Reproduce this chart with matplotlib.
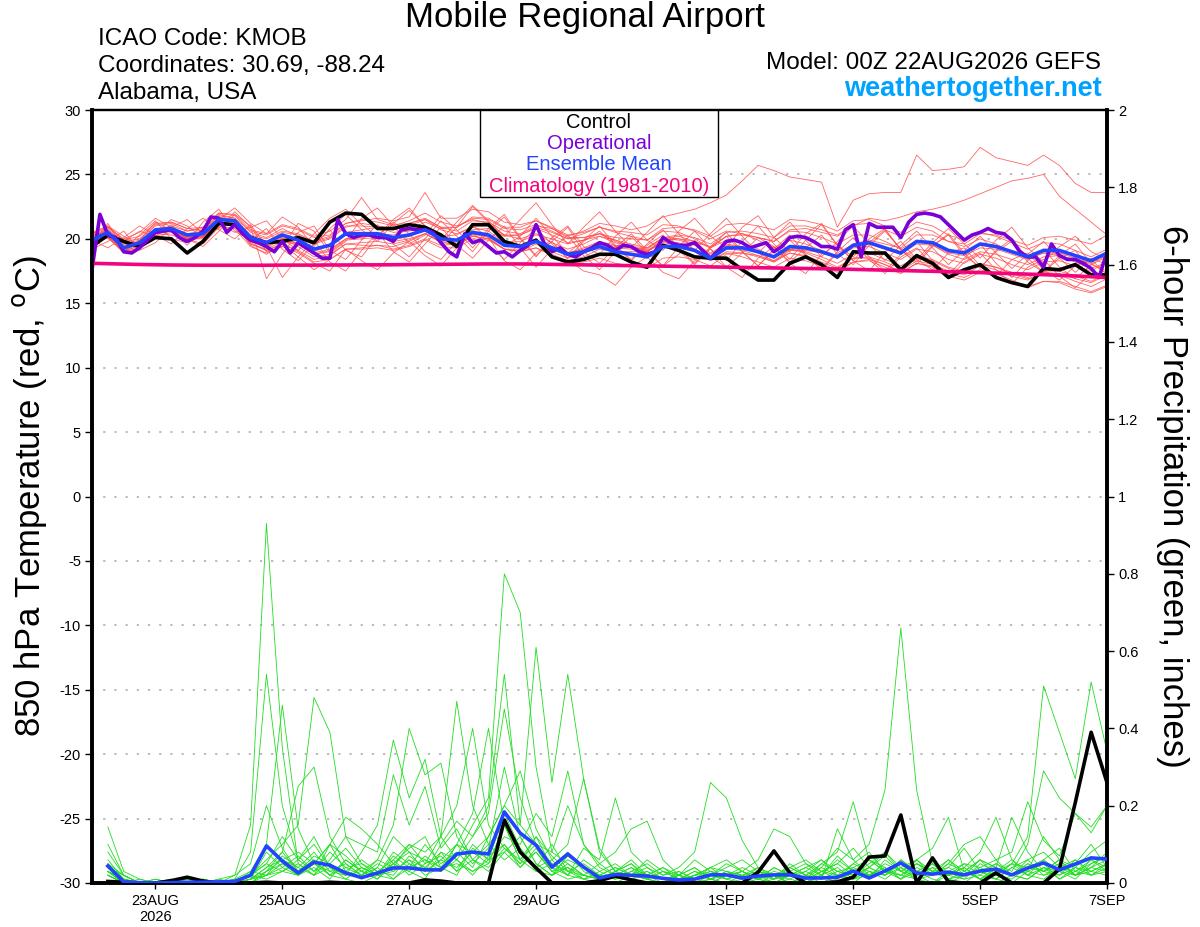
import numpy as np
import matplotlib
matplotlib.use("Agg")
import matplotlib.pyplot as plt
from matplotlib.patches import Rectangle

plt.rcParams['font.family'] = ['Liberation Sans', 'DejaVu Sans']

# ---- data (6-hourly from 00Z 22AUG2026) ----
xtick_days = [1, 3, 5, 7, 10, 12, 14, 16]
xtick_labels = ['23AUG\n2026', '25AUG', '27AUG', '29AUG', '1SEP', '3SEP', '5SEP', '7SEP']

ctrl_temp = [19.4,20.3,19.8,19.4,20.1,20.0,18.9,19.8,21.2,21.1,20.1,19.7,19.8,20.1,19.7,21.3,
             22.0,21.9,20.8,20.8,21.1,20.9,20.3,19.4,21.1,21.1,19.8,19.4,19.9,18.6,18.2,18.4,
             18.8,18.8,18.2,17.8,19.5,19.1,18.6,18.5,18.5,17.6,16.8,16.8,18.1,18.6,18.0,17.0,
             19.0,18.9,18.9,17.6,18.7,18.1,17.0,17.6,18.0,17.0,16.6,16.3,17.7,17.6,18.0,17.2,17.2]

mean_temp = [19.9,20.5,19.3,19.7,20.7,20.8,20.3,20.4,21.5,21.4,20.1,19.7,20.3,19.9,19.2,19.5,
             20.4,20.4,20.4,20.1,20.3,20.7,20.0,19.9,20.5,20.3,19.5,19.4,19.8,19.3,18.8,19.0,
             19.4,19.0,18.8,18.6,19.4,19.4,19.1,18.5,19.3,19.3,19.0,18.6,19.4,19.3,19.0,18.6,
             19.5,19.7,19.3,18.9,19.8,19.7,19.1,18.9,19.6,19.4,19.0,18.6,19.1,19.1,18.7,18.3,18.9]

clim_temp = [18.10,18.07,18.04,18.01,17.99,17.97,17.96,17.95,17.95,17.95,17.95,17.95,17.96,17.96,17.96,17.97,
             17.97,17.98,17.98,17.99,18.00,18.01,18.02,18.03,18.04,18.05,18.05,18.05,18.04,18.02,18.00,17.98,
             17.96,17.94,17.92,17.90,17.88,17.86,17.84,17.82,17.80,17.78,17.76,17.74,17.72,17.70,17.68,17.66,
             17.63,17.60,17.57,17.54,17.51,17.48,17.45,17.42,17.38,17.34,17.30,17.26,17.22,17.17,17.12,17.06,17.00]

# operational run is 3-hourly
oper_temp = [17.6,21.9,20.3,20.1,19.0,18.9,19.3,19.9, 20.5,20.6,20.7,20.1,19.8,20.1,20.6,21.7,
             21.6,20.5,21.1,20.4,19.9,19.7,19.4,19.0, 19.8,18.9,19.7,19.3,18.9,18.5,18.5,21.5,
             20.4,20.1,20.3,20.3,20.1,20.1,19.8,20.7, 20.8,20.7,20.7,20.5,19.7,19.0,18.6,20.4,
             19.7,19.9,19.4,18.9,19.0,18.6,19.1,19.5, 21.1,19.7,19.0,19.3,18.8,18.6,19.0,19.3,
             19.7,19.5,19.1,19.5,19.4,19.0,18.8,19.0, 20.1,19.7,19.5,19.5,19.7,19.1,18.5,19.1,
             19.8,19.9,19.7,19.3,19.5,19.7,19.0,19.4, 20.1,20.2,20.1,19.8,19.4,19.4,19.2,20.7,
             21.1,18.6,21.2,20.9,20.9,20.9,20.1,21.3, 21.9,22.0,21.9,21.7,21.1,20.5,19.9,20.3,
             20.5,20.8,20.5,20.4,19.9,19.0,18.6,18.6, 17.8,19.6,18.7,18.4,18.4,18.1,17.7,17.0,19.0]

temp_members = [
    [20.2,20.8,19.6,19.9,21.0,21.2,20.6,20.9,22.0,21.8,20.5,20.1,20.8,20.2,19.6,20.0,
     20.9,21.2,21.0,20.8,21.2,21.6,20.9,20.6,21.4,21.3,20.6,20.4,21.0,20.8,20.2,20.6,
     21.2,21.0,20.7,21.0,21.7,22.0,22.3,22.8,23.4,24.5,25.7,25.3,24.8,24.6,24.4,20.9,
     23.0,23.5,23.6,23.6,26.5,25.3,25.4,25.6,27.1,26.3,26.0,25.7,26.5,25.7,24.3,23.6,23.6],
    [19.5,20.1,19.0,19.5,20.4,20.3,19.9,20.1,21.2,21.1,19.8,19.3,20.0,19.6,18.9,19.2,
     20.0,20.1,20.3,19.8,20.0,20.4,19.8,19.5,20.2,20.0,19.2,19.0,19.6,19.0,18.5,18.9,
     19.6,19.3,19.2,19.0,20.0,20.2,19.8,19.4,20.2,20.4,20.1,19.8,20.7,20.8,20.5,20.2,
     21.0,21.6,21.4,21.7,22.1,22.3,22.6,23.0,23.5,24.0,24.5,24.7,25.0,23.3,22.3,21.3,20.3],
    [20.3,20.9,19.8,20.0,21.1,21.3,20.8,20.6,21.9,21.6,20.6,20.3,21.0,20.7,20.1,20.3,
     21.2,21.5,21.3,21.0,21.4,22.0,21.3,21.0,21.5,21.2,20.3,20.0,20.4,19.7,19.2,19.6,
     20.2,19.9,19.4,19.0,19.8,19.5,19.0,18.3,18.9,18.6,18.2,17.8,18.5,18.3,17.9,17.4,
     18.2,18.4,18.0,17.5,18.3,18.0,17.5,17.2,17.9,17.6,17.1,16.8,17.4,17.3,16.9,16.6,17.2],
    [19.6,20.2,19.0,19.3,20.2,20.5,20.1,20.3,21.2,21.0,19.7,19.1,19.6,19.0,18.2,18.4,
     19.2,19.3,19.5,19.4,19.8,20.4,19.8,19.9,20.7,20.8,20.2,20.3,20.9,20.5,20.0,20.4,
     20.9,20.6,20.5,20.3,21.1,21.0,20.6,20.0,20.6,20.4,19.9,19.3,19.9,19.6,19.1,18.6,
     19.3,19.4,18.9,18.4,19.2,19.0,18.4,18.1,18.8,18.5,18.0,17.6,18.2,18.3,17.9,17.5,18.2],
    [20.4,20.0,19.8,20.6,20.2,21.1,20.0,19.4,20.6,21.9,21.0,19.0,19.4,21.2,20.6,18.9,
     19.8,21.6,22.4,21.0,19.6,20.3,21.8,20.7,19.3,20.8,21.9,20.1,18.7,19.8,20.9,19.0,
     18.1,19.3,20.4,19.1,17.9,18.8,19.9,18.6,17.8,18.9,20.1,19.4,18.2,19.3,20.3,18.8,
     18.0,19.5,20.6,19.2,18.4,19.7,20.8,19.6,18.5,19.9,20.9,19.3,18.2,19.4,20.2,19.0,18.4],
    [19.7,20.3,19.1,19.4,20.5,20.6,20.0,20.2,21.3,21.1,19.8,19.4,20.0,19.4,18.6,18.8,
     19.6,19.5,19.5,19.2,19.5,20.0,19.5,19.6,20.3,20.3,19.7,19.8,20.3,20.0,19.6,19.9,
     20.4,20.1,20.0,19.9,20.8,20.9,20.7,20.2,21.1,21.2,21.0,20.7,21.5,21.4,21.1,20.6,
     21.4,21.5,21.0,20.5,21.3,21.0,20.3,19.9,20.5,20.2,19.7,19.2,19.7,19.6,19.1,18.6,19.2],
    [19.6,21.2,19.2,20.3,21.4,20.0,19.7,21.3,22.3,20.6,19.9,20.8,19.2,18.3,19.6,20.7,
     19.1,18.6,20.2,21.3,20.4,19.0,18.4,19.8,21.0,20.1,18.3,17.6,18.9,19.8,18.4,17.5,
     17.2,16.4,17.8,18.6,17.4,16.9,18.3,19.2,17.8,17.0,18.5,19.4,18.1,17.3,18.8,19.6,
     18.3,17.5,19.0,19.8,18.4,17.6,18.9,19.3,17.9,17.1,18.4,18.9,17.6,16.8,17.9,18.4,17.2],
    [19.8,20.4,19.2,19.8,20.8,20.7,20.1,20.1,21.1,21.0,19.6,19.2,19.8,19.6,19.0,19.5,
     20.5,20.7,20.9,20.7,21.0,21.5,20.9,20.9,21.6,21.5,20.8,20.7,21.1,20.6,20.0,20.1,
     20.4,19.8,19.4,19.0,19.7,19.5,19.0,18.3,19.0,18.9,18.6,18.2,19.1,19.1,18.9,18.6,
     19.6,19.9,19.6,19.3,20.3,20.3,19.8,19.6,20.4,20.3,19.9,19.5,20.1,20.2,19.9,19.6,20.3],
    [19.2,19.8,20.6,19.1,19.7,20.9,21.5,20.4,20.8,22.1,20.9,16.9,18.8,20.5,21.0,19.1,
     18.4,19.9,21.1,19.6,18.6,20.0,21.4,20.2,19.0,20.6,21.7,20.0,18.6,20.1,21.0,19.4,
     18.8,20.2,21.3,19.9,19.1,20.6,21.6,20.2,19.3,20.9,21.8,20.1,19.0,20.4,21.2,19.5,
     18.6,20.0,20.8,19.1,18.2,19.5,20.3,18.7,17.8,19.0,19.8,18.2,17.4,18.5,19.1,17.6,17.0],
    [20.4,21.0,19.9,20.2,21.2,21.3,20.8,20.9,22.0,21.9,20.7,20.4,21.1,20.8,20.2,20.6,
     21.5,23.2,21.5,21.1,21.2,21.5,20.7,20.4,20.9,20.6,19.7,19.5,19.9,19.4,18.9,19.2,
     19.7,19.4,19.3,19.2,20.1,20.3,20.1,19.6,20.5,20.6,20.4,20.1,21.0,21.0,20.7,20.3,
     21.1,21.2,20.7,20.2,20.9,20.6,19.8,19.4,20.0,19.6,19.0,18.5,18.9,18.7,18.2,17.7,18.2],
    [19.9,20.5,19.3,19.5,20.6,20.6,20.0,20.0,21.0,20.8,19.4,18.9,19.4,18.9,18.1,17.5,
     19.2,19.2,19.3,19.1,19.4,19.9,19.3,19.3,20.0,19.9,19.2,19.2,19.7,19.3,18.9,19.3,
     19.8,19.5,19.4,19.3,20.1,20.0,19.6,18.9,19.6,19.4,18.9,18.3,18.9,18.6,18.1,17.5,
     18.2,18.3,17.8,17.3,18.1,17.9,17.3,17.0,17.6,17.3,16.8,16.3,16.7,16.6,16.1,15.8,16.3],
    [20.2,20.6,19.5,19.8,20.7,21.0,20.6,20.8,21.8,21.6,20.3,20.0,20.6,20.4,19.8,20.2,
     21.2,21.4,21.6,21.4,21.7,23.6,21.6,21.6,22.3,22.1,21.3,21.1,21.4,20.8,20.1,20.1,
     20.4,19.9,19.6,19.3,20.0,19.9,19.5,18.8,19.5,19.4,19.0,18.5,19.2,19.0,18.6,18.1,
     18.8,18.9,18.4,17.9,18.6,18.4,17.8,17.5,18.1,17.8,17.3,16.9,17.3,17.2,16.7,16.3,16.9],
    [20.6,20.1,19.0,19.9,21.3,20.7,19.5,20.8,21.2,20.5,20.9,21.4,20.0,19.1,20.4,21.6,
     22.3,21.1,20.2,21.5,22.4,21.0,19.7,20.9,22.5,21.3,19.4,20.2,21.6,20.2,18.9,19.9,
     21.0,19.5,18.4,19.6,20.7,19.3,18.1,19.4,20.5,19.0,17.9,19.2,20.3,18.8,17.7,19.0,
     20.1,18.6,17.5,18.8,19.8,18.3,17.2,18.5,19.6,18.1,17.0,18.3,19.2,17.8,16.9,18.0,17.5],
    [19.9,19.3,20.1,21.0,20.3,19.6,20.8,21.6,20.7,20.0,21.1,19.4,17.0,18.6,19.9,18.2,
     17.5,19.1,20.5,19.0,18.2,19.6,20.9,19.5,18.5,19.9,21.0,19.3,17.8,19.2,20.3,18.7,
     17.6,19.0,20.2,18.9,17.9,19.4,20.6,19.2,18.3,19.8,21.0,19.6,18.4,19.9,21.1,19.5,
     18.3,19.7,20.7,19.2,18.0,19.4,20.4,18.9,17.7,19.1,20.0,18.5,17.4,18.7,19.6,18.1,17.3],
    [19.7,20.2,19.1,19.6,20.6,20.7,20.3,20.5,21.6,21.4,20.0,19.5,20.1,19.6,18.8,19.0,
     19.9,20.0,20.1,19.9,20.2,20.7,20.2,20.3,21.0,21.0,20.3,20.3,20.8,20.3,19.7,19.9,
     20.2,19.7,19.4,19.1,19.8,19.7,19.2,18.5,19.2,19.1,18.7,18.2,18.9,18.7,18.2,17.7,
     18.5,18.6,18.2,17.7,18.5,18.3,17.7,17.4,18.0,17.8,17.4,17.0,17.5,17.5,17.1,16.7,17.3],
    [20.5,21.0,20.2,19.4,20.5,21.5,21.0,20.1,21.5,22.4,21.2,20.4,21.7,20.9,19.4,20.8,
     21.9,20.7,19.8,21.2,22.2,21.0,19.9,21.3,22.6,21.4,20.2,21.5,22.8,21.1,19.6,20.9,
     22.1,20.6,19.3,20.5,21.8,20.4,19.1,20.4,21.6,20.2,18.9,20.1,21.3,19.9,18.6,19.8,
     21.0,19.6,18.3,19.5,20.6,19.3,18.0,19.1,20.2,18.9,17.7,18.8,19.8,18.5,17.4,18.5,18.0],
    [19.6,20.1,18.9,19.3,20.4,20.6,20.2,20.3,21.3,21.3,20.1,19.8,20.5,20.3,19.7,20.1,
     21.0,21.0,20.9,20.5,20.6,20.9,20.1,19.9,20.4,20.1,19.2,19.0,19.3,18.7,18.1,18.2,
     18.5,18.1,17.9,17.7,18.5,18.6,18.4,17.9,18.8,18.9,18.7,18.3,19.2,19.2,18.9,18.5,
     19.4,19.6,19.2,18.8,19.6,19.5,18.9,18.7,19.3,19.2,18.8,18.4,18.9,18.9,18.5,18.1,18.7],
    [20.1,20.7,19.6,19.7,20.6,20.8,20.4,20.6,21.7,21.5,20.2,19.8,20.2,19.6,18.8,19.1,
     20.0,20.2,20.4,20.3,20.7,21.3,20.8,20.9,21.7,21.6,20.9,20.9,21.4,20.9,20.3,20.5,
     20.9,20.5,20.2,19.9,20.6,20.5,20.0,19.3,19.9,19.7,19.2,18.6,19.2,18.9,18.4,17.8,
     18.5,18.5,18.0,17.4,18.1,17.8,17.1,16.8,17.4,17.1,16.6,16.2,16.7,16.7,16.3,15.9,16.4],
    [19.8,20.4,19.3,19.7,20.7,20.8,20.2,20.2,21.2,21.0,19.6,19.1,19.6,19.1,18.4,18.7,
     19.6,19.7,19.8,19.6,19.9,20.4,19.7,19.6,20.2,20.0,19.2,19.0,19.3,18.8,18.3,18.6,
     19.2,19.0,19.0,19.0,19.9,20.0,19.8,19.3,20.2,20.3,20.1,19.8,20.6,20.5,20.1,19.6,
     20.3,20.3,19.8,19.2,19.9,19.5,18.8,18.4,19.0,18.8,18.4,18.0,18.6,18.7,18.4,18.0,18.6],
    [19.8,20.9,20.0,20.5,21.6,20.9,20.0,19.6,20.9,21.2,19.5,18.8,19.6,18.6,17.6,18.4,
     19.2,18.3,17.6,18.9,19.8,18.7,17.9,19.3,20.4,19.5,18.4,19.7,20.8,19.6,18.5,19.8,
     20.6,19.4,18.3,19.5,20.3,19.1,18.0,19.3,20.2,19.0,17.9,19.1,19.9,18.7,17.6,18.9,
     19.6,18.4,17.3,18.6,19.3,18.0,16.9,18.2,18.9,17.6,16.5,17.8,18.4,17.1,16.2,17.3,16.8],
]

# 6-hour precipitation (inches), starting at 06Z 22AUG
ctrl_prcp = [0.004,0.002,0.0,0.0, 0.006,0.015,0.005,0.0, 0.0,0.0,0.002,0.0, 0.0,0.0,0.002,0.0,
             0.0,0.0,0.0,0.0, 0.008,0.005,0.0,0.0, 0.0,0.163,0.08,0.039, 0.0,0.0,0.0,0.006,
             0.018,0.008,0.0,0.0, 0.0,0.0,0.0,0.0, 0.0,0.028,0.083,0.026, 0.0,0.0,0.003,0.015,
             0.067,0.070,0.176,0.0, 0.065,0.003,0.0,0.0, 0.026,0.0,0.0,0.0, 0.036,0.208,0.39,0.26]

mean_prcp = [0.044,0.003,0.001,0.0, 0.001,0.002,0.002,0.003, 0.004,0.02,0.096,0.057, 0.026,0.054,0.046,0.026,
             0.014,0.026,0.039,0.039, 0.034,0.034,0.075,0.080, 0.075,0.184,0.129,0.098, 0.041,0.075,0.041,0.013,
             0.022,0.02,0.018,0.012, 0.008,0.01,0.021,0.021, 0.013,0.018,0.021,0.021, 0.013,0.013,0.015,0.031,
             0.013,0.031,0.052,0.026, 0.023,0.028,0.021,0.031, 0.036,0.021,0.039,0.052, 0.034,0.049,0.065,0.062]

prcp_members = [
    [0.03,0.01,0,0, 0,0,0,0.01, 0.02,0.15,0.93,0.35, 0.05,0.02,0.10,0.03, 0.01,0.04,0.12,0.08, 0.03,0.06,0.10,0.05,
     0.09,0.30,0.12,0.05, 0.02,0.04,0.01,0, 0,0.02,0.03,0.01, 0,0,0.01,0.03, 0.02,0,0.01,0.04, 0.02,0,0.01,0.05,
     0.08,0.03,0.02,0.01, 0,0.03,0.05,0.02, 0.01,0,0.03,0.12, 0.06,0.04,0.08,0.11],
    [0.02,0,0,0, 0,0,0.01,0, 0.01,0.08,0.54,0.20, 0.06,0.12,0.04,0.01, 0,0.02,0.05,0.03, 0.01,0.08,0.03,0.10,
     0.06,0.18,0.09,0.04, 0.10,0.03,0.02,0.01, 0.03,0.01,0,0, 0.02,0.04,0.01,0, 0,0.03,0.02,0, 0.01,0.02,0,0.03,
     0.01,0.06,0.03,0.02, 0.05,0.01,0,0.03, 0.02,0.05,0.12,0.51, 0.39,0.27,0.52,0.34],
    [0.04,0.01,0,0, 0,0,0,0, 0,0.03,0.10,0.46, 0.14,0.05,0.02,0.06, 0.03,0.01,0.05,0.09, 0.12,0.04,0.07,0.15,
     0.22,0.80,0.70,0.30, 0.08,0.05,0.02,0.01, 0.03,0.05,0.01,0, 0,0.02,0.03,0.01, 0,0.01,0.04,0.02, 0.01,0,0.02,0.01,
     0.04,0.02,0.06,0.03, 0.01,0,0.02,0.04, 0.06,0.02,0.01,0.04, 0.03,0.01,0.05,0.07],
    [0.02,0,0,0.01, 0,0,0,0, 0,0.02,0.06,0.10, 0.15,0.48,0.39,0.12, 0.05,0.02,0.01,0.04, 0.06,0.03,0.10,0.08,
     0.12,0.20,0.15,0.10, 0.08,0.20,0.10,0.04, 0.02,0.04,0.01,0, 0.01,0,0,0.02, 0.03,0.01,0,0.02, 0.01,0.04,0.02,0,
     0.03,0.01,0.04,0.02, 0,0.02,0.01,0.05, 0.03,0.06,0.02,0.01, 0.04,0.02,0.06,0.03],
    [0.145,0.03,0.01,0, 0,0,0.01,0, 0,0.01,0.03,0.08, 0.25,0.30,0.12,0.05, 0.02,0.06,0.04,0.10, 0.05,0.12,0.20,0.40,
     0.15,0.09,0.05,0.12, 0.04,0.02,0.06,0.03, 0.01,0.02,0.01,0.03, 0.01,0,0.02,0.05, 0.03,0.01,0,0.02, 0.04,0.02,0.06,0.03,
     0.02,0.04,0.01,0.03, 0.05,0.02,0.04,0.01, 0.03,0.02,0.06,0.08, 0.04,0.06,0.02,0.05],
    [0.05,0.02,0,0, 0,0.01,0,0, 0,0.02,0.05,0.03, 0.06,0.10,0.04,0.02, 0.08,0.15,0.37,0.22, 0.32,0.12,0.06,0.03,
     0.05,0.10,0.04,0.08, 0.03,0.01,0.02,0.05, 0.02,0.01,0.03,0.01, 0,0.02,0.04,0.01, 0.02,0.03,0.01,0.05, 0.02,0.04,0.09,0.06,
     0.10,0.24,0.66,0.24, 0.05,0.02,0.04,0.01, 0.03,0.05,0.02,0.04, 0.01,0.03,0.02,0.04],
    [0.03,0,0,0.01, 0,0,0,0.01, 0,0.01,0.08,0.04, 0.02,0.05,0.10,0.07, 0.03,0.06,0.15,0.40, 0.28,0.31,0.12,0.06,
     0.10,0.15,0.08,0.04, 0.06,0.02,0.01,0.03, 0.05,0.02,0.01,0, 0.03,0.01,0,0.02, 0.01,0.04,0.02,0.01, 0,0.03,0.05,0.02,
     0.04,0.08,0.03,0.05, 0.02,0.04,0.09,0.03, 0.01,0.04,0.02,0.06, 0.03,0.05,0.10,0.04],
    [0.06,0.01,0,0, 0.01,0,0,0, 0.01,0.03,0.02,0.07, 0.04,0.02,0.06,0.12, 0.10,0.08,0.28,0.15, 0.25,0.09,0.14,0.06,
     0.03,0.08,0.12,0.05, 0.02,0.07,0.04,0.02, 0.01,0.03,0.02,0.01, 0.02,0.06,0.03,0.02, 0.01,0,0.02,0.03, 0.05,0.03,0.01,0.04,
     0.06,0.03,0.02,0.05, 0.03,0.01,0.03,0.06, 0.04,0.02,0.05,0.03, 0.02,0.04,0.03,0.02],
    [0.04,0.01,0,0, 0,0,0,0, 0.02,0.05,0.20,0.09, 0.03,0.07,0.05,0.02, 0.03,0.01,0.06,0.10, 0.08,0.12,0.47,0.20,
     0.10,0.06,0.09,0.03, 0.02,0.05,0.02,0.01, 0.02,0.01,0.02,0.04, 0.01,0.03,0.01,0, 0.02,0.01,0.03,0.02, 0,0.02,0.04,0.01,
     0.03,0.02,0.05,0.02, 0.04,0.03,0.01,0.02, 0.05,0.03,0.10,0.29, 0.22,0.18,0.145,0.20],
    [0.03,0,0.01,0, 0,0,0,0, 0,0.01,0.04,0.06, 0.08,0.05,0.10,0.17, 0.14,0.10,0.05,0.08, 0.06,0.04,0.10,0.18,
     0.40,0.15,0.06,0.10, 0.05,0.03,0.01,0.02, 0.04,0.02,0.01,0.03, 0.02,0.01,0.04,0.03, 0.01,0.02,0,0.01, 0.03,0.06,0.02,0.01,
     0.02,0.04,0.01,0.06, 0.03,0.02,0.05,0.04, 0.02,0.01,0.04,0.06, 0.09,0.03,0.05,0.07],
    [0.10,0.02,0,0, 0.01,0,0,0, 0,0.01,0.04,0.08, 0.03,0.06,0.02,0.01, 0.04,0.02,0.08,0.05, 0.03,0.10,0.16,0.12,
     0.20,0.54,0.15,0.61, 0.26,0.54,0.27,0.08, 0.03,0.02,0.04,0.01, 0,0.02,0.01,0, 0.01,0.03,0.02,0, 0.02,0.01,0.03,0.04,
     0.02,0.05,0.03,0.01, 0.02,0.06,0.03,0.01, 0,0.02,0.05,0.03, 0.06,0.02,0.04,0.08],
    [0.08,0.02,0,0, 0,0,0,0, 0,0.02,0.05,0.12, 0.06,0.03,0.08,0.04, 0.02,0.05,0.03,0.06, 0.04,0.08,0.06,0.12,
     0.18,0.45,0.22,0.10, 0.04,0.08,0.03,0.01, 0.02,0.04,0.02,0, 0.01,0.03,0.02,0.01, 0.03,0.01,0.02,0.04, 0.02,0.05,0.08,0.21,
     0.06,0.03,0.05,0.02, 0.04,0.01,0.02,0.03, 0.05,0.02,0.01,0.04, 0.02,0.06,0.03,0.05],
    [0.04,0.02,0,0, 0,0,0,0, 0.01,0,0.03,0.05, 0.02,0.04,0.01,0.06, 0.03,0.02,0.07,0.04, 0.10,0.05,0.08,0.04,
     0.12,0.20,0.29,0.14, 0.06,0.10,0.27,0.09, 0.03,0.06,0.02,0.01, 0.02,0,0.01,0.03, 0.02,0.04,0.01,0.02, 0.03,0.01,0.14,0.06,
     0.02,0.03,0.01,0.04, 0.02,0.05,0.03,0.01, 0.04,0.02,0.03,0.05, 0.01,0.04,0.02,0.03],
    [0.05,0.01,0,0, 0,0,0,0, 0,0.01,0.02,0.04, 0.07,0.03,0.05,0.09, 0.04,0.02,0.05,0.03, 0.07,0.04,0.02,0.09,
     0.06,0.12,0.10,0.18, 0.12,0.29,0.10,0.05, 0.08,0.14,0.16,0.06, 0.02,0.04,0.01,0.02, 0.03,0.01,0.04,0.02, 0.01,0.03,0.02,0.05,
     0.03,0.02,0.04,0.01, 0.03,0.06,0.02,0.03, 0.01,0.04,0.06,0.02, 0.03,0.02,0.04,0.06],
    [0.03,0,0,0, 0.01,0,0,0, 0,0,0.03,0.06, 0.04,0.08,0.03,0.05, 0.02,0.04,0.01,0.05, 0.03,0.06,0.04,0.08,
     0.05,0.15,0.06,0.03, 0.05,0.02,0.09,0.06, 0.22,0.08,0.04,0.02, 0.03,0.01,0.02,0.04, 0.06,0.03,0.01,0.02, 0.04,0.06,0.03,0.02,
     0.05,0.08,0.04,0.06, 0.09,0.17,0.03,0.06, 0.02,0.05,0.04,0.03, 0.06,0.02,0.03,0.05],
    [0.02,0,0,0, 0,0,0.01,0, 0,0.02,0.01,0.03, 0.05,0.02,0.04,0.03, 0.06,0.03,0.02,0.07, 0.04,0.03,0.06,0.02,
     0.07,0.10,0.05,0.08, 0.03,0.06,0.04,0.02, 0.01,0.03,0.05,0.02, 0.04,0.08,0.26,0.22, 0.11,0.04,0.02,0.03, 0.01,0.05,0.03,0.02,
     0.04,0.02,0.06,0.03, 0.05,0.02,0.04,0.08, 0.17,0.06,0.03,0.02, 0.04,0.03,0.06,0.04],
    [0.03,0.01,0,0, 0,0,0,0, 0,0.01,0.02,0.05, 0.03,0.06,0.02,0.04, 0.05,0.03,0.06,0.02, 0.05,0.07,0.03,0.06,
     0.04,0.09,0.06,0.12, 0.07,0.03,0.05,0.02, 0.04,0.02,0.06,0.03, 0.01,0.02,0.04,0.06, 0.03,0.06,0.14,0.12, 0.05,0.02,0.07,0.03,
     0.06,0.04,0.02,0.05, 0.03,0.04,0.02,0.06, 0.04,0.17,0.08,0.03, 0.05,0.02,0.04,0.03],
    [0.02,0,0,0, 0,0.01,0,0, 0,0,0.02,0.03, 0.02,0.05,0.03,0.02, 0.04,0.02,0.03,0.06, 0.02,0.04,0.05,0.03,
     0.06,0.08,0.04,0.09, 0.03,0.04,0.02,0.01, 0.03,0.05,0.02,0.04, 0.02,0.01,0.03,0.02, 0.04,0.02,0.01,0.04, 0.06,0.03,0.05,0.09,
     0.04,0.07,0.03,0.06, 0.02,0.05,0.10,0.12, 0.06,0.08,0.21,0.11, 0.07,0.18,0.13,0.20],
]

t6 = np.arange(65) * 0.25      # days since 00Z 22AUG
t3 = np.arange(129) * 0.125

c_red = '#ff4a4a'
c_green = '#22dd22'
c_oper = '#7a00d8'
c_mean = '#2244ff'
c_clim = '#f2047e'

fig = plt.figure(figsize=(12, 9.27), dpi=100)
ax = fig.add_axes([92/1200, 44/927, 1015/1200, 773/927])
ax2 = ax.twinx()

# temperature (left axis)
for m in temp_members:
    ax.plot(t6[:len(m)], m, color=c_red, lw=0.6, alpha=0.85, zorder=2)
ax.plot(t6[:len(ctrl_temp)], ctrl_temp, color='black', lw=2.6, zorder=4)
ax.plot(t3[:len(oper_temp)], oper_temp, color=c_oper, lw=2.6, zorder=5)
ax.plot(t6[:len(mean_temp)], mean_temp, color=c_mean, lw=2.6, zorder=6)
ax.plot(t6[:len(clim_temp)], clim_temp, color=c_clim, lw=2.6, zorder=7)

# precipitation (right axis)
for m in prcp_members:
    ax2.plot(t6[1:1+len(m)], m, color=c_green, lw=0.6, zorder=2)
ax2.plot(t6[1:1+len(ctrl_prcp)], ctrl_prcp, color='black', lw=2.6, zorder=4)
ax2.plot(t6[1:1+len(mean_prcp)], mean_prcp, color=c_mean, lw=2.6, zorder=5)

ax.set_xlim(0, 16)
ax.set_ylim(-30, 30)
ax2.set_ylim(0, 2)

ax.set_yticks(np.arange(-30, 31, 5))
ax.set_yticklabels([str(v) for v in range(-30, 31, 5)])
ax2.set_yticks(np.arange(0, 2.01, 0.2))
ax2.set_yticklabels(['0', '0.2', '0.4', '0.6', '0.8', '1', '1.2', '1.4', '1.6', '1.8', '2'])
ax.set_xticks(xtick_days)
ax.set_xticklabels(xtick_labels)

ax.yaxis.grid(True, color='#b4b4b4', linestyle=(0, (1.2, 5)), lw=1.3)
ax.set_axisbelow(True)

ax.tick_params(axis='y', direction='out', length=5, width=1, labelsize=10.5, pad=3)
ax2.tick_params(axis='y', direction='out', length=5, width=1, labelsize=10.5, pad=3)
ax.tick_params(axis='x', direction='out', length=4, width=1, labelsize=10.5, pad=4)

for a in (ax, ax2):
    for side in ('left', 'right', 'bottom'):
        a.spines[side].set_linewidth(2.6)
    a.spines['top'].set_linewidth(1.6)

# legend box
ax2.add_patch(Rectangle((0.382, 0.887), 0.235, 0.113, transform=ax2.transAxes,
                        facecolor='white', edgecolor='black', lw=1.0, zorder=20))
leg_items = [('Control', 'black'), ('Operational', c_oper),
             ('Ensemble Mean', c_mean), ('Climatology (1981-2010)', c_clim)]
for k, (txt, col) in enumerate(leg_items):
    ax2.text(0.4995, 0.984 - k*0.0275, txt, color=col, fontsize=14.5,
             ha='center', va='center', transform=ax2.transAxes, zorder=21)

# header
fig.text(0.4875, 0.9806, 'Mobile Regional Airport', fontsize=25, ha='center', va='center')
fig.text(0.0817, 0.958, 'ICAO Code: KMOB', fontsize=17.5, ha='left', va='center')
fig.text(0.0817, 0.929, 'Coordinates: 30.69, -88.24', fontsize=17.5, ha='left', va='center')
fig.text(0.0817, 0.8997, 'Alabama, USA', fontsize=17.5, ha='left', va='center')
fig.text(0.9175, 0.932, 'Model: 00Z 22AUG2026 GEFS', fontsize=17.5, ha='right', va='center')
fig.text(0.918, 0.904, 'weathertogether.net', fontsize=19.5, fontweight='bold',
         color='#00a2ff', ha='right', va='center')

fig.text(0.025, 0.4644, '850 hPa Temperature (red, $^{\\mathrm{o}}$C)', fontsize=25,
         rotation=90, ha='center', va='center')
fig.text(0.977, 0.4644, '6-hour Precipitation (green, inches)', fontsize=25,
         rotation=270, ha='center', va='center')

fig.savefig('out.png', dpi=100)
